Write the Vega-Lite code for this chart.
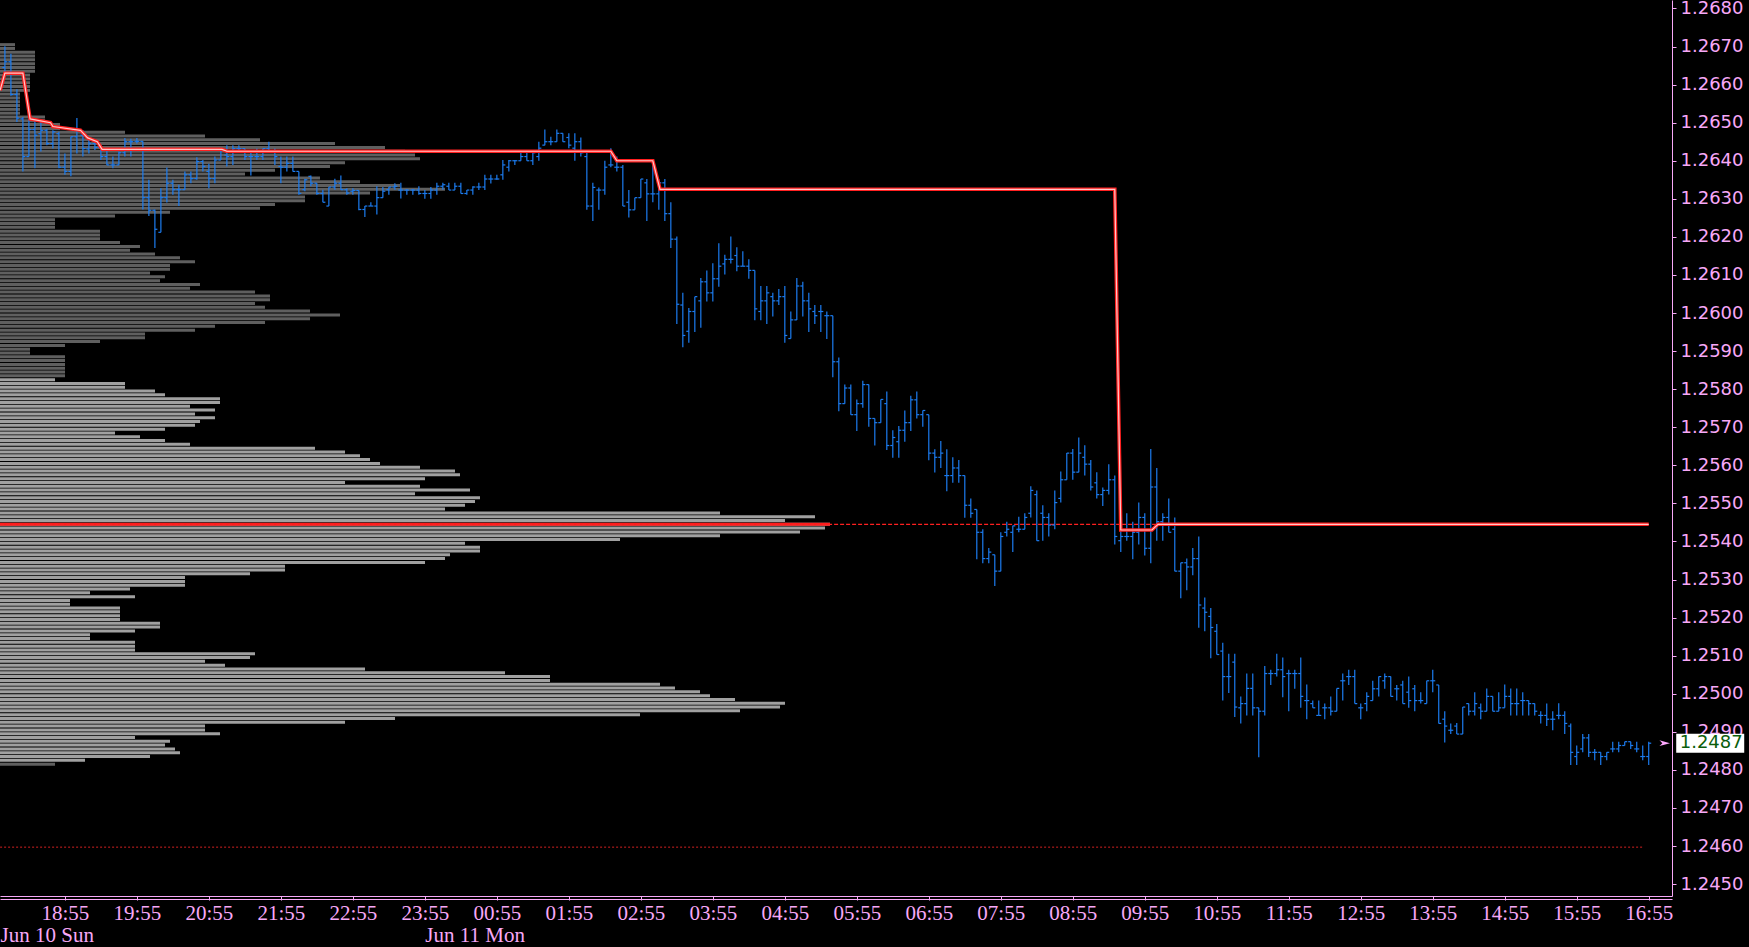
{
"$schema":"https://vega.github.io/schema/vega-lite/v6.json",
"width":1672,"height":896,
"autosize":{"type":"none"},
"padding":{"left":0,"top":0,"right":77,"bottom":51},
"background":"#000000",
"config":{"view":{"stroke":null},"axis":{"grid":false}},
"datasets":{
"bars":[
{"t":"2012-06-10T18:05","o":1.26645,"h":1.26701,"l":1.26627,"c":1.2666},
{"t":"2012-06-10T18:10","o":1.2666,"h":1.26681,"l":1.26571,"c":1.26574},
{"t":"2012-06-10T18:15","o":1.26574,"h":1.26588,"l":1.26502,"c":1.26512},
{"t":"2012-06-10T18:20","o":1.2651,"h":1.26515,"l":1.26372,"c":1.26411},
{"t":"2012-06-10T18:25","o":1.26411,"h":1.2651,"l":1.26411,"c":1.26482},
{"t":"2012-06-10T18:30","o":1.26482,"h":1.26506,"l":1.2638,"c":1.26467},
{"t":"2012-06-10T18:35","o":1.26471,"h":1.26502,"l":1.26424,"c":1.2648},
{"t":"2012-06-10T18:40","o":1.2648,"h":1.26484,"l":1.26441,"c":1.26445},
{"t":"2012-06-10T18:45","o":1.26445,"h":1.2648,"l":1.26432,"c":1.26476},
{"t":"2012-06-10T18:50","o":1.26471,"h":1.26476,"l":1.2638,"c":1.26383},
{"t":"2012-06-10T18:55","o":1.26383,"h":1.26419,"l":1.26363,"c":1.26372},
{"t":"2012-06-10T19:00","o":1.26372,"h":1.26463,"l":1.26359,"c":1.26463},
{"t":"2012-06-10T19:05","o":1.26463,"h":1.26512,"l":1.26419,"c":1.26482},
{"t":"2012-06-10T19:10","o":1.26467,"h":1.2648,"l":1.26411,"c":1.26432},
{"t":"2012-06-10T19:15","o":1.26431,"h":1.26458,"l":1.26419,"c":1.26445},
{"t":"2012-06-10T19:20","o":1.26445,"h":1.26454,"l":1.26428,"c":1.26435},
{"t":"2012-06-10T19:25","o":1.26435,"h":1.26441,"l":1.26402,"c":1.26411},
{"t":"2012-06-10T19:30","o":1.26411,"h":1.26428,"l":1.26389,"c":1.26389},
{"t":"2012-06-10T19:35","o":1.26389,"h":1.26411,"l":1.2638,"c":1.26389},
{"t":"2012-06-10T19:40","o":1.26389,"h":1.26424,"l":1.26389,"c":1.26421},
{"t":"2012-06-10T19:45","o":1.26421,"h":1.2646,"l":1.26411,"c":1.2645},
{"t":"2012-06-10T19:50","o":1.2645,"h":1.26458,"l":1.26411,"c":1.2645},
{"t":"2012-06-10T19:55","o":1.26451,"h":1.2646,"l":1.26445,"c":1.26451},
{"t":"2012-06-10T20:00","o":1.26451,"h":1.26451,"l":1.26272,"c":1.26303},
{"t":"2012-06-10T20:05","o":1.26303,"h":1.2635,"l":1.26255,"c":1.2627},
{"t":"2012-06-10T20:10","o":1.2627,"h":1.26272,"l":1.26171,"c":1.2622},
{"t":"2012-06-10T20:15","o":1.26212,"h":1.26328,"l":1.26212,"c":1.26303},
{"t":"2012-06-10T20:20","o":1.26303,"h":1.26382,"l":1.2629,"c":1.26341},
{"t":"2012-06-10T20:25","o":1.26341,"h":1.2635,"l":1.26311,"c":1.26324},
{"t":"2012-06-10T20:30","o":1.26324,"h":1.26337,"l":1.26281,"c":1.26324},
{"t":"2012-06-10T20:35","o":1.26324,"h":1.26372,"l":1.26324,"c":1.26363},
{"t":"2012-06-10T20:40","o":1.26363,"h":1.26372,"l":1.26341,"c":1.26353},
{"t":"2012-06-10T20:45","o":1.26353,"h":1.26409,"l":1.2635,"c":1.26398},
{"t":"2012-06-10T20:50","o":1.26398,"h":1.26402,"l":1.26372,"c":1.26385},
{"t":"2012-06-10T20:55","o":1.26372,"h":1.26392,"l":1.26328,"c":1.26353},
{"t":"2012-06-10T21:00","o":1.26353,"h":1.26411,"l":1.26341,"c":1.26402},
{"t":"2012-06-10T21:05","o":1.26402,"h":1.26432,"l":1.26402,"c":1.26432},
{"t":"2012-06-10T21:10","o":1.26415,"h":1.26441,"l":1.26385,"c":1.26411},
{"t":"2012-06-10T21:15","o":1.26411,"h":1.26441,"l":1.26389,"c":1.26432},
{"t":"2012-06-10T21:20","o":1.26432,"h":1.26441,"l":1.26424,"c":1.26432},
{"t":"2012-06-10T21:25","o":1.26432,"h":1.26432,"l":1.26402,"c":1.26411},
{"t":"2012-06-10T21:30","o":1.26411,"h":1.26428,"l":1.26361,"c":1.26411},
{"t":"2012-06-10T21:35","o":1.26411,"h":1.26432,"l":1.26402,"c":1.26411},
{"t":"2012-06-10T21:40","o":1.26411,"h":1.26432,"l":1.26402,"c":1.26432},
{"t":"2012-06-10T21:45","o":1.26432,"h":1.2645,"l":1.26424,"c":1.26424},
{"t":"2012-06-10T21:50","o":1.26424,"h":1.26432,"l":1.26389,"c":1.26411},
{"t":"2012-06-10T21:55","o":1.26385,"h":1.26411,"l":1.26341,"c":1.26383},
{"t":"2012-06-10T22:00","o":1.26383,"h":1.26411,"l":1.26372,"c":1.26393},
{"t":"2012-06-10T22:05","o":1.26393,"h":1.26411,"l":1.26372,"c":1.26372},
{"t":"2012-06-10T22:10","o":1.26372,"h":1.26372,"l":1.26311,"c":1.26314},
{"t":"2012-06-10T22:15","o":1.26324,"h":1.26353,"l":1.2632,"c":1.2635},
{"t":"2012-06-10T22:20","o":1.26359,"h":1.26361,"l":1.26333,"c":1.26341},
{"t":"2012-06-10T22:25","o":1.26341,"h":1.26341,"l":1.26311,"c":1.26314},
{"t":"2012-06-10T22:30","o":1.26314,"h":1.26324,"l":1.26291,"c":1.26291},
{"t":"2012-06-10T22:35","o":1.26281,"h":1.26331,"l":1.26281,"c":1.26331},
{"t":"2012-06-10T22:40","o":1.26331,"h":1.26353,"l":1.26324,"c":1.26341},
{"t":"2012-06-10T22:45","o":1.26341,"h":1.26361,"l":1.26324,"c":1.26324},
{"t":"2012-06-10T22:50","o":1.26324,"h":1.26328,"l":1.26311,"c":1.26315},
{"t":"2012-06-10T22:55","o":1.2632,"h":1.26328,"l":1.26311,"c":1.26322},
{"t":"2012-06-10T23:00","o":1.26322,"h":1.26322,"l":1.2627,"c":1.26272},
{"t":"2012-06-10T23:05","o":1.26272,"h":1.26281,"l":1.26252,"c":1.26281},
{"t":"2012-06-10T23:10","o":1.26281,"h":1.26291,"l":1.26281,"c":1.26281},
{"t":"2012-06-10T23:15","o":1.26281,"h":1.26333,"l":1.26259,"c":1.26303},
{"t":"2012-06-10T23:20","o":1.26303,"h":1.26331,"l":1.26303,"c":1.2632},
{"t":"2012-06-10T23:25","o":1.26324,"h":1.26331,"l":1.26311,"c":1.26331},
{"t":"2012-06-10T23:30","o":1.26331,"h":1.26341,"l":1.26324,"c":1.26333},
{"t":"2012-06-10T23:35","o":1.26323,"h":1.26342,"l":1.26301,"c":1.26323},
{"t":"2012-06-10T23:40","o":1.26323,"h":1.26326,"l":1.26311,"c":1.26323},
{"t":"2012-06-10T23:45","o":1.26323,"h":1.26326,"l":1.26311,"c":1.26323},
{"t":"2012-06-10T23:50","o":1.26323,"h":1.26333,"l":1.26311,"c":1.26314},
{"t":"2012-06-10T23:55","o":1.26314,"h":1.26323,"l":1.263,"c":1.26314},
{"t":"2012-06-11T00:00","o":1.26314,"h":1.26331,"l":1.263,"c":1.26323},
{"t":"2012-06-11T00:05","o":1.26323,"h":1.26342,"l":1.26311,"c":1.26333},
{"t":"2012-06-11T00:10","o":1.26333,"h":1.26342,"l":1.26324,"c":1.26337},
{"t":"2012-06-11T00:15","o":1.26333,"h":1.26342,"l":1.26323,"c":1.26323},
{"t":"2012-06-11T00:20","o":1.26323,"h":1.26342,"l":1.26323,"c":1.26333},
{"t":"2012-06-11T00:25","o":1.26333,"h":1.26342,"l":1.26314,"c":1.26314},
{"t":"2012-06-11T00:30","o":1.26314,"h":1.26323,"l":1.26311,"c":1.26323},
{"t":"2012-06-11T00:35","o":1.26323,"h":1.26333,"l":1.26311,"c":1.26331},
{"t":"2012-06-11T00:40","o":1.26331,"h":1.26342,"l":1.26323,"c":1.26331},
{"t":"2012-06-11T00:45","o":1.26331,"h":1.26363,"l":1.26323,"c":1.26352},
{"t":"2012-06-11T00:50","o":1.26352,"h":1.26363,"l":1.2634,"c":1.26352},
{"t":"2012-06-11T00:55","o":1.26352,"h":1.26363,"l":1.2635,"c":1.26352},
{"t":"2012-06-11T01:00","o":1.26363,"h":1.26402,"l":1.2635,"c":1.26389},
{"t":"2012-06-11T01:05","o":1.26383,"h":1.26402,"l":1.26372,"c":1.264},
{"t":"2012-06-11T01:10","o":1.264,"h":1.26402,"l":1.26389,"c":1.264},
{"t":"2012-06-11T01:15","o":1.264,"h":1.26421,"l":1.264,"c":1.26411},
{"t":"2012-06-11T01:20","o":1.26411,"h":1.26421,"l":1.264,"c":1.264},
{"t":"2012-06-11T01:25","o":1.264,"h":1.26421,"l":1.26389,"c":1.26421},
{"t":"2012-06-11T01:30","o":1.26411,"h":1.2645,"l":1.264,"c":1.26433},
{"t":"2012-06-11T01:35","o":1.26441,"h":1.26482,"l":1.26441,"c":1.2645},
{"t":"2012-06-11T01:40","o":1.2645,"h":1.26463,"l":1.26441,"c":1.2645},
{"t":"2012-06-11T01:45","o":1.2645,"h":1.26482,"l":1.2645,"c":1.26472},
{"t":"2012-06-11T01:50","o":1.26472,"h":1.26472,"l":1.2645,"c":1.2645},
{"t":"2012-06-11T01:55","o":1.26461,"h":1.26472,"l":1.26433,"c":1.26441},
{"t":"2012-06-11T02:00","o":1.26433,"h":1.26472,"l":1.264,"c":1.2645},
{"t":"2012-06-11T02:05","o":1.2645,"h":1.26461,"l":1.26411,"c":1.26421},
{"t":"2012-06-11T02:10","o":1.26411,"h":1.26421,"l":1.26271,"c":1.26281},
{"t":"2012-06-11T02:15","o":1.26281,"h":1.26342,"l":1.26242,"c":1.2633},
{"t":"2012-06-11T02:20","o":1.26323,"h":1.2633,"l":1.26271,"c":1.26323},
{"t":"2012-06-11T02:25","o":1.26323,"h":1.264,"l":1.26311,"c":1.26383},
{"t":"2012-06-11T02:30","o":1.26389,"h":1.26433,"l":1.26383,"c":1.26389},
{"t":"2012-06-11T02:35","o":1.26383,"h":1.26411,"l":1.26372,"c":1.26383},
{"t":"2012-06-11T02:40","o":1.26383,"h":1.26389,"l":1.26281,"c":1.26281},
{"t":"2012-06-11T02:45","o":1.26291,"h":1.26323,"l":1.26251,"c":1.26271},
{"t":"2012-06-11T02:50","o":1.26271,"h":1.26303,"l":1.26271,"c":1.26303},
{"t":"2012-06-11T02:55","o":1.26303,"h":1.26352,"l":1.26303,"c":1.26352},
{"t":"2012-06-11T03:00","o":1.26342,"h":1.26352,"l":1.26242,"c":1.26313},
{"t":"2012-06-11T03:05","o":1.26313,"h":1.26389,"l":1.26291,"c":1.26313},
{"t":"2012-06-11T03:10","o":1.26313,"h":1.26352,"l":1.26271,"c":1.26342},
{"t":"2012-06-11T03:15","o":1.26342,"h":1.26352,"l":1.26242,"c":1.26261},
{"t":"2012-06-11T03:20","o":1.26261,"h":1.26291,"l":1.26171,"c":1.26194},
{"t":"2012-06-11T03:25","o":1.26194,"h":1.26201,"l":1.25971,"c":1.26023},
{"t":"2012-06-11T03:30","o":1.26021,"h":1.26053,"l":1.2591,"c":1.25941},
{"t":"2012-06-11T03:35","o":1.25952,"h":1.26013,"l":1.25922,"c":1.26004},
{"t":"2012-06-11T03:40","o":1.26004,"h":1.26043,"l":1.2595,"c":1.26043},
{"t":"2012-06-11T03:45","o":1.26032,"h":1.26092,"l":1.25961,"c":1.26082},
{"t":"2012-06-11T03:50","o":1.26082,"h":1.26112,"l":1.2603,"c":1.26053},
{"t":"2012-06-11T03:55","o":1.26053,"h":1.26131,"l":1.2603,"c":1.2609},
{"t":"2012-06-11T04:00","o":1.2609,"h":1.26183,"l":1.26069,"c":1.26123},
{"t":"2012-06-11T04:05","o":1.26129,"h":1.26153,"l":1.26101,"c":1.26141},
{"t":"2012-06-11T04:10","o":1.26141,"h":1.26201,"l":1.2613,"c":1.26141},
{"t":"2012-06-11T04:15","o":1.26151,"h":1.26173,"l":1.2611,"c":1.26123},
{"t":"2012-06-11T04:20","o":1.26123,"h":1.26162,"l":1.26123,"c":1.26123},
{"t":"2012-06-11T04:25","o":1.26123,"h":1.26141,"l":1.2609,"c":1.26112},
{"t":"2012-06-11T04:30","o":1.26112,"h":1.26112,"l":1.25981,"c":1.26011},
{"t":"2012-06-11T04:35","o":1.26004,"h":1.26071,"l":1.25981,"c":1.26032},
{"t":"2012-06-11T04:40","o":1.26032,"h":1.26071,"l":1.25971,"c":1.26053},
{"t":"2012-06-11T04:45","o":1.26043,"h":1.26053,"l":1.25991,"c":1.26032},
{"t":"2012-06-11T04:50","o":1.26032,"h":1.26063,"l":1.26021,"c":1.26043},
{"t":"2012-06-11T04:55","o":1.26043,"h":1.26071,"l":1.25922,"c":1.25941},
{"t":"2012-06-11T05:00","o":1.25933,"h":1.26004,"l":1.25933,"c":1.25982},
{"t":"2012-06-11T05:05","o":1.25982,"h":1.26092,"l":1.25982,"c":1.26071},
{"t":"2012-06-11T05:10","o":1.26071,"h":1.26082,"l":1.25991,"c":1.26032},
{"t":"2012-06-11T05:15","o":1.26032,"h":1.26053,"l":1.2595,"c":1.26011},
{"t":"2012-06-11T05:20","o":1.26004,"h":1.26021,"l":1.25971,"c":1.25993},
{"t":"2012-06-11T05:25","o":1.26004,"h":1.26021,"l":1.2595,"c":1.26004},
{"t":"2012-06-11T05:30","o":1.25993,"h":1.26004,"l":1.25932,"c":1.25993},
{"t":"2012-06-11T05:35","o":1.25993,"h":1.25993,"l":1.25831,"c":1.25872},
{"t":"2012-06-11T05:40","o":1.25872,"h":1.25883,"l":1.25742,"c":1.25762},
{"t":"2012-06-11T05:45","o":1.25762,"h":1.25812,"l":1.25762,"c":1.25803},
{"t":"2012-06-11T05:50","o":1.25803,"h":1.25812,"l":1.25733,"c":1.25733},
{"t":"2012-06-11T05:55","o":1.25733,"h":1.25773,"l":1.2569,"c":1.25762},
{"t":"2012-06-11T06:00","o":1.25762,"h":1.25822,"l":1.25751,"c":1.25812},
{"t":"2012-06-11T06:05","o":1.25812,"h":1.25812,"l":1.25701,"c":1.25723},
{"t":"2012-06-11T06:10","o":1.25723,"h":1.25723,"l":1.25652,"c":1.25712},
{"t":"2012-06-11T06:15","o":1.25712,"h":1.25773,"l":1.25712,"c":1.25773},
{"t":"2012-06-11T06:20","o":1.25762,"h":1.25794,"l":1.2564,"c":1.25652},
{"t":"2012-06-11T06:25","o":1.25652,"h":1.25692,"l":1.2562,"c":1.25673},
{"t":"2012-06-11T06:30","o":1.25662,"h":1.25703,"l":1.2562,"c":1.25692},
{"t":"2012-06-11T06:35","o":1.25692,"h":1.25744,"l":1.25662,"c":1.25712},
{"t":"2012-06-11T06:40","o":1.25712,"h":1.25783,"l":1.2569,"c":1.25772},
{"t":"2012-06-11T06:45","o":1.25772,"h":1.25794,"l":1.25723,"c":1.25733},
{"t":"2012-06-11T06:50","o":1.25733,"h":1.25744,"l":1.25701,"c":1.25744},
{"t":"2012-06-11T06:55","o":1.25733,"h":1.25733,"l":1.25613,"c":1.25632},
{"t":"2012-06-11T07:00","o":1.25632,"h":1.25642,"l":1.25581,"c":1.25621},
{"t":"2012-06-11T07:05","o":1.25621,"h":1.25664,"l":1.25593,"c":1.25632},
{"t":"2012-06-11T07:10","o":1.25573,"h":1.25642,"l":1.25532,"c":1.25573},
{"t":"2012-06-11T07:15","o":1.25573,"h":1.25621,"l":1.25554,"c":1.25593},
{"t":"2012-06-11T07:20","o":1.25593,"h":1.25614,"l":1.25554,"c":1.25573},
{"t":"2012-06-11T07:25","o":1.25573,"h":1.25573,"l":1.25462,"c":1.25495},
{"t":"2012-06-11T07:30","o":1.25495,"h":1.25513,"l":1.25462,"c":1.25474},
{"t":"2012-06-11T07:35","o":1.25484,"h":1.25484,"l":1.25353,"c":1.25424},
{"t":"2012-06-11T07:40","o":1.25424,"h":1.25432,"l":1.25343,"c":1.25355},
{"t":"2012-06-11T07:45","o":1.25355,"h":1.25383,"l":1.25343,"c":1.25372},
{"t":"2012-06-11T07:50","o":1.25365,"h":1.25365,"l":1.25283,"c":1.25322},
{"t":"2012-06-11T07:55","o":1.25322,"h":1.25424,"l":1.25322,"c":1.25413},
{"t":"2012-06-11T08:00","o":1.25424,"h":1.25452,"l":1.25413,"c":1.25432},
{"t":"2012-06-11T08:05","o":1.25424,"h":1.25441,"l":1.25372,"c":1.25441},
{"t":"2012-06-11T08:10","o":1.25432,"h":1.25465,"l":1.25424,"c":1.25432},
{"t":"2012-06-11T08:15","o":1.25432,"h":1.25474,"l":1.25432,"c":1.25463},
{"t":"2012-06-11T08:20","o":1.25474,"h":1.25545,"l":1.25463,"c":1.25534},
{"t":"2012-06-11T08:25","o":1.25523,"h":1.25534,"l":1.25402,"c":1.25402},
{"t":"2012-06-11T08:30","o":1.25474,"h":1.25495,"l":1.25402,"c":1.25463},
{"t":"2012-06-11T08:35","o":1.25463,"h":1.25474,"l":1.25413,"c":1.25443},
{"t":"2012-06-11T08:40","o":1.25443,"h":1.25534,"l":1.25432,"c":1.25502},
{"t":"2012-06-11T08:45","o":1.25513,"h":1.25584,"l":1.25502,"c":1.25562},
{"t":"2012-06-11T08:50","o":1.25562,"h":1.25632,"l":1.25562,"c":1.25632},
{"t":"2012-06-11T08:55","o":1.25632,"h":1.25643,"l":1.25562,"c":1.25582},
{"t":"2012-06-11T09:00","o":1.25582,"h":1.25673,"l":1.25582,"c":1.25632},
{"t":"2012-06-11T09:05","o":1.25621,"h":1.25653,"l":1.25573,"c":1.25603},
{"t":"2012-06-11T09:10","o":1.25603,"h":1.25614,"l":1.25534,"c":1.25543},
{"t":"2012-06-11T09:15","o":1.25554,"h":1.25582,"l":1.25513,"c":1.25523},
{"t":"2012-06-11T09:20","o":1.25523,"h":1.25542,"l":1.25493,"c":1.25534},
{"t":"2012-06-11T09:25","o":1.25534,"h":1.25603,"l":1.25523,"c":1.25562},
{"t":"2012-06-11T09:30","o":1.25562,"h":1.25573,"l":1.25392,"c":1.25413},
{"t":"2012-06-11T09:35","o":1.25402,"h":1.25474,"l":1.25372,"c":1.25413},
{"t":"2012-06-11T09:40","o":1.25413,"h":1.25474,"l":1.25402,"c":1.25413},
{"t":"2012-06-11T09:45","o":1.25413,"h":1.25452,"l":1.25353,"c":1.25424},
{"t":"2012-06-11T09:50","o":1.25424,"h":1.25502,"l":1.25392,"c":1.25463},
{"t":"2012-06-11T09:55","o":1.25463,"h":1.25474,"l":1.25363,"c":1.25382},
{"t":"2012-06-11T10:00","o":1.25382,"h":1.25643,"l":1.25343,"c":1.25543},
{"t":"2012-06-11T10:05","o":1.25543,"h":1.25593,"l":1.25402,"c":1.25452},
{"t":"2012-06-11T10:10","o":1.25452,"h":1.25474,"l":1.25402,"c":1.25463},
{"t":"2012-06-11T10:15","o":1.25463,"h":1.25513,"l":1.25424,"c":1.25424},
{"t":"2012-06-11T10:20","o":1.25432,"h":1.25463,"l":1.25322,"c":1.25322},
{"t":"2012-06-11T10:25","o":1.25322,"h":1.25344,"l":1.25251,"c":1.25344},
{"t":"2012-06-11T10:30","o":1.25344,"h":1.25355,"l":1.25272,"c":1.25333},
{"t":"2012-06-11T10:35","o":1.25333,"h":1.25383,"l":1.25311,"c":1.25355},
{"t":"2012-06-11T10:40","o":1.25355,"h":1.25413,"l":1.25173,"c":1.25233},
{"t":"2012-06-11T10:45","o":1.25225,"h":1.25253,"l":1.25164,"c":1.25214},
{"t":"2012-06-11T10:50","o":1.25203,"h":1.25225,"l":1.25093,"c":1.25174},
{"t":"2012-06-11T10:55","o":1.25164,"h":1.25183,"l":1.25103,"c":1.25103},
{"t":"2012-06-11T11:00","o":1.25112,"h":1.25134,"l":1.24982,"c":1.25045},
{"t":"2012-06-11T11:05","o":1.25045,"h":1.25105,"l":1.25002,"c":1.25045},
{"t":"2012-06-11T11:10","o":1.25083,"h":1.25105,"l":1.24939,"c":1.24965},
{"t":"2012-06-11T11:15","o":1.24963,"h":1.24993,"l":1.24922,"c":1.24974},
{"t":"2012-06-11T11:20","o":1.24974,"h":1.25053,"l":1.24943,"c":1.25014},
{"t":"2012-06-11T11:25","o":1.25014,"h":1.25053,"l":1.24943,"c":1.24963},
{"t":"2012-06-11T11:30","o":1.24963,"h":1.24963,"l":1.24833,"c":1.24954},
{"t":"2012-06-11T11:35","o":1.24954,"h":1.25073,"l":1.24943,"c":1.25053},
{"t":"2012-06-11T11:40","o":1.25053,"h":1.25063,"l":1.25023,"c":1.25053},
{"t":"2012-06-11T11:45","o":1.25053,"h":1.25105,"l":1.25045,"c":1.25063},
{"t":"2012-06-11T11:50","o":1.25063,"h":1.25095,"l":1.24991,"c":1.25045},
{"t":"2012-06-11T11:55","o":1.25053,"h":1.25063,"l":1.24954,"c":1.25053},
{"t":"2012-06-11T12:00","o":1.25053,"h":1.25063,"l":1.25013,"c":1.25053},
{"t":"2012-06-11T12:05","o":1.25053,"h":1.25095,"l":1.24963,"c":1.24993},
{"t":"2012-06-11T12:10","o":1.24982,"h":1.25024,"l":1.24933,"c":1.24982},
{"t":"2012-06-11T12:15","o":1.24974,"h":1.24982,"l":1.24963,"c":1.24963},
{"t":"2012-06-11T12:20","o":1.24943,"h":1.24982,"l":1.24943,"c":1.24943},
{"t":"2012-06-11T12:25","o":1.24963,"h":1.24974,"l":1.24933,"c":1.24963},
{"t":"2012-06-11T12:30","o":1.24963,"h":1.24993,"l":1.24943,"c":1.24954},
{"t":"2012-06-11T12:35","o":1.24954,"h":1.25014,"l":1.24954,"c":1.25014},
{"t":"2012-06-11T12:40","o":1.25034,"h":1.25053,"l":1.24982,"c":1.25034},
{"t":"2012-06-11T12:45","o":1.25045,"h":1.25063,"l":1.25023,"c":1.25045},
{"t":"2012-06-11T12:50","o":1.25045,"h":1.25063,"l":1.24974,"c":1.24974},
{"t":"2012-06-11T12:55","o":1.24963,"h":1.24974,"l":1.24933,"c":1.24963},
{"t":"2012-06-11T13:00","o":1.24974,"h":1.25004,"l":1.24954,"c":1.24993},
{"t":"2012-06-11T13:05","o":1.24982,"h":1.25034,"l":1.24982,"c":1.25013},
{"t":"2012-06-11T13:10","o":1.25013,"h":1.25045,"l":1.24993,"c":1.25045},
{"t":"2012-06-11T13:15","o":1.25034,"h":1.25053,"l":1.25013,"c":1.25045},
{"t":"2012-06-11T13:20","o":1.25045,"h":1.25045,"l":1.24993,"c":1.24993},
{"t":"2012-06-11T13:25","o":1.25013,"h":1.25023,"l":1.24982,"c":1.25013},
{"t":"2012-06-11T13:30","o":1.25023,"h":1.25034,"l":1.24974,"c":1.24974},
{"t":"2012-06-11T13:35","o":1.25004,"h":1.25045,"l":1.24963,"c":1.24982},
{"t":"2012-06-11T13:40","o":1.25013,"h":1.25023,"l":1.24954,"c":1.24982},
{"t":"2012-06-11T13:45","o":1.24982,"h":1.25004,"l":1.24974,"c":1.24982},
{"t":"2012-06-11T13:50","o":1.24974,"h":1.25034,"l":1.24974,"c":1.25034},
{"t":"2012-06-11T13:55","o":1.25034,"h":1.25063,"l":1.25004,"c":1.25034},
{"t":"2012-06-11T14:00","o":1.25023,"h":1.25023,"l":1.24922,"c":1.24922},
{"t":"2012-06-11T14:05","o":1.24933,"h":1.24954,"l":1.24872,"c":1.24915},
{"t":"2012-06-11T14:10","o":1.24904,"h":1.24922,"l":1.24894,"c":1.24904},
{"t":"2012-06-11T14:15","o":1.24915,"h":1.24923,"l":1.24894,"c":1.24894},
{"t":"2012-06-11T14:20","o":1.24894,"h":1.24965,"l":1.24894,"c":1.24965},
{"t":"2012-06-11T14:25","o":1.24974,"h":1.24974,"l":1.24943,"c":1.24954},
{"t":"2012-06-11T14:30","o":1.24954,"h":1.25004,"l":1.24943,"c":1.24974},
{"t":"2012-06-11T14:35","o":1.24963,"h":1.24974,"l":1.24933,"c":1.24954},
{"t":"2012-06-11T14:40","o":1.24954,"h":1.25014,"l":1.24954,"c":1.24993},
{"t":"2012-06-11T14:45","o":1.24993,"h":1.24993,"l":1.24954,"c":1.24954},
{"t":"2012-06-11T14:50","o":1.24954,"h":1.25004,"l":1.24954,"c":1.24963},
{"t":"2012-06-11T14:55","o":1.24963,"h":1.25024,"l":1.24963,"c":1.24993},
{"t":"2012-06-11T15:00","o":1.24993,"h":1.25014,"l":1.24943,"c":1.24974},
{"t":"2012-06-11T15:05","o":1.24974,"h":1.25014,"l":1.24943,"c":1.24974},
{"t":"2012-06-11T15:10","o":1.24982,"h":1.25004,"l":1.24943,"c":1.24982},
{"t":"2012-06-11T15:15","o":1.24982,"h":1.24982,"l":1.24943,"c":1.24974},
{"t":"2012-06-11T15:20","o":1.24974,"h":1.24974,"l":1.24943,"c":1.24954},
{"t":"2012-06-11T15:25","o":1.24943,"h":1.24954,"l":1.24922,"c":1.24943},
{"t":"2012-06-11T15:30","o":1.24943,"h":1.24974,"l":1.24915,"c":1.24933},
{"t":"2012-06-11T15:35","o":1.24933,"h":1.24954,"l":1.24904,"c":1.24933},
{"t":"2012-06-11T15:40","o":1.24943,"h":1.24975,"l":1.24933,"c":1.24943},
{"t":"2012-06-11T15:45","o":1.24943,"h":1.24954,"l":1.24894,"c":1.24922},
{"t":"2012-06-11T15:50","o":1.24915,"h":1.24922,"l":1.24813,"c":1.24846},
{"t":"2012-06-11T15:55","o":1.24835,"h":1.24864,"l":1.24813,"c":1.24846},
{"t":"2012-06-11T16:00","o":1.24855,"h":1.24894,"l":1.24846,"c":1.24884},
{"t":"2012-06-11T16:05","o":1.24884,"h":1.24894,"l":1.24834,"c":1.24846},
{"t":"2012-06-11T16:10","o":1.24846,"h":1.24855,"l":1.24825,"c":1.24846},
{"t":"2012-06-11T16:15","o":1.24846,"h":1.24846,"l":1.24813,"c":1.24835},
{"t":"2012-06-11T16:20","o":1.24835,"h":1.24846,"l":1.24825,"c":1.24846},
{"t":"2012-06-11T16:25","o":1.24855,"h":1.24874,"l":1.24846,"c":1.24855},
{"t":"2012-06-11T16:30","o":1.24855,"h":1.24874,"l":1.24846,"c":1.24864},
{"t":"2012-06-11T16:35","o":1.24864,"h":1.24874,"l":1.24864,"c":1.24874},
{"t":"2012-06-11T16:40","o":1.24874,"h":1.24874,"l":1.24855,"c":1.24864},
{"t":"2012-06-11T16:45","o":1.24855,"h":1.24874,"l":1.24846,"c":1.24855},
{"t":"2012-06-11T16:50","o":1.24835,"h":1.24864,"l":1.24825,"c":1.24835},
{"t":"2012-06-11T16:55","o":1.24835,"h":1.24874,"l":1.24813,"c":1.2487}
],
"profile":[
{"p":1.26705,"v":3,"s":"a"},{"p":1.26695,"v":3,"s":"a"},{"p":1.26685,"v":7,"s":"a"},{"p":1.26675,"v":7,"s":"a"},{"p":1.26665,"v":7,"s":"a"},{"p":1.26655,"v":7,"s":"a"},{"p":1.26645,"v":7,"s":"a"},{"p":1.26635,"v":7,"s":"a"},{"p":1.26625,"v":6,"s":"a"},{"p":1.26615,"v":6,"s":"a"},{"p":1.26605,"v":6,"s":"a"},{"p":1.26595,"v":6,"s":"a"},{"p":1.26585,"v":6,"s":"a"},{"p":1.26575,"v":4,"s":"a"},{"p":1.26565,"v":4,"s":"a"},{"p":1.26555,"v":4,"s":"a"},{"p":1.26545,"v":4,"s":"a"},{"p":1.26535,"v":4,"s":"a"},{"p":1.26525,"v":4,"s":"a"},{"p":1.26515,"v":9,"s":"a"},{"p":1.26505,"v":9,"s":"a"},{"p":1.26495,"v":12,"s":"a"},{"p":1.26485,"v":12,"s":"a"},{"p":1.26475,"v":25,"s":"a"},{"p":1.26465,"v":41,"s":"a"},{"p":1.26455,"v":52,"s":"a"},{"p":1.26445,"v":67,"s":"a"},{"p":1.26435,"v":77,"s":"a"},{"p":1.26425,"v":81,"s":"a"},{"p":1.26415,"v":83,"s":"a"},{"p":1.26405,"v":84,"s":"a"},{"p":1.26395,"v":69,"s":"a"},{"p":1.26385,"v":66,"s":"a"},{"p":1.26375,"v":55,"s":"a"},{"p":1.26365,"v":49,"s":"a"},{"p":1.26355,"v":64,"s":"a"},{"p":1.26345,"v":72,"s":"a"},{"p":1.26335,"v":80,"s":"a"},{"p":1.26325,"v":89,"s":"a"},{"p":1.26315,"v":74,"s":"a"},{"p":1.26305,"v":61,"s":"a"},{"p":1.26295,"v":61,"s":"a"},{"p":1.26285,"v":55,"s":"a"},{"p":1.26275,"v":52,"s":"a"},{"p":1.26265,"v":34,"s":"a"},{"p":1.26255,"v":23,"s":"a"},{"p":1.26245,"v":11,"s":"a"},{"p":1.26235,"v":11,"s":"a"},{"p":1.26225,"v":11,"s":"a"},{"p":1.26215,"v":20,"s":"a"},{"p":1.26205,"v":20,"s":"a"},{"p":1.26195,"v":20,"s":"a"},{"p":1.26185,"v":24,"s":"a"},{"p":1.26175,"v":28,"s":"a"},{"p":1.26165,"v":26,"s":"a"},{"p":1.26155,"v":31,"s":"a"},{"p":1.26145,"v":36,"s":"a"},{"p":1.26135,"v":39,"s":"a"},{"p":1.26125,"v":34,"s":"a"},{"p":1.26115,"v":34,"s":"a"},{"p":1.26105,"v":30,"s":"a"},{"p":1.26095,"v":33,"s":"a"},{"p":1.26085,"v":32,"s":"a"},{"p":1.26075,"v":40,"s":"a"},{"p":1.26065,"v":38,"s":"a"},{"p":1.26055,"v":51,"s":"a"},{"p":1.26045,"v":54,"s":"a"},{"p":1.26035,"v":54,"s":"a"},{"p":1.26025,"v":51,"s":"a"},{"p":1.26015,"v":53,"s":"a"},{"p":1.26005,"v":62,"s":"a"},{"p":1.25995,"v":68,"s":"a"},{"p":1.25985,"v":62,"s":"a"},{"p":1.25975,"v":53,"s":"a"},{"p":1.25965,"v":43,"s":"a"},{"p":1.25955,"v":39,"s":"a"},{"p":1.25945,"v":29,"s":"a"},{"p":1.25935,"v":29,"s":"a"},{"p":1.25925,"v":20,"s":"a"},{"p":1.25915,"v":13,"s":"a"},{"p":1.25905,"v":6,"s":"a"},{"p":1.25895,"v":6,"s":"a"},{"p":1.25885,"v":13,"s":"a"},{"p":1.25875,"v":13,"s":"a"},{"p":1.25865,"v":13,"s":"a"},{"p":1.25855,"v":13,"s":"a"},{"p":1.25845,"v":13,"s":"a"},{"p":1.25835,"v":13,"s":"a"},
{"p":1.25825,"v":11,"s":"b"},{"p":1.25815,"v":25,"s":"b"},{"p":1.25805,"v":25,"s":"b"},{"p":1.25795,"v":31,"s":"b"},{"p":1.25785,"v":33,"s":"b"},{"p":1.25775,"v":44,"s":"b"},{"p":1.25765,"v":44,"s":"b"},{"p":1.25755,"v":38,"s":"b"},{"p":1.25745,"v":43,"s":"b"},{"p":1.25735,"v":39,"s":"b"},{"p":1.25725,"v":43,"s":"b"},{"p":1.25715,"v":40,"s":"b"},{"p":1.25705,"v":39,"s":"b"},{"p":1.25695,"v":33,"s":"b"},{"p":1.25685,"v":23,"s":"b"},{"p":1.25675,"v":28,"s":"b"},{"p":1.25665,"v":33,"s":"b"},{"p":1.25655,"v":38,"s":"b"},{"p":1.25645,"v":63,"s":"b"},{"p":1.25635,"v":69,"s":"b"},{"p":1.25625,"v":72,"s":"b"},{"p":1.25615,"v":74,"s":"b"},{"p":1.25605,"v":76,"s":"b"},{"p":1.25595,"v":84,"s":"b"},{"p":1.25585,"v":91,"s":"b"},{"p":1.25575,"v":92,"s":"b"},{"p":1.25565,"v":85,"s":"b"},{"p":1.25555,"v":69,"s":"b"},{"p":1.25545,"v":84,"s":"b"},{"p":1.25535,"v":94,"s":"b"},{"p":1.25525,"v":83,"s":"b"},{"p":1.25515,"v":96,"s":"b"},{"p":1.25505,"v":95,"s":"b"},{"p":1.25495,"v":93,"s":"b"},{"p":1.25485,"v":89,"s":"b"},{"p":1.25475,"v":144,"s":"b"},{"p":1.25465,"v":163,"s":"b"},{"p":1.25455,"v":157,"s":"b"},{"p":1.25445,"v":166,"s":"b"},{"p":1.25435,"v":165,"s":"b"},{"p":1.25425,"v":160,"s":"b"},{"p":1.25415,"v":144,"s":"b"},{"p":1.25405,"v":124,"s":"b"},{"p":1.25395,"v":93,"s":"b"},{"p":1.25385,"v":96,"s":"b"},{"p":1.25375,"v":96,"s":"b"},{"p":1.25365,"v":90,"s":"b"},{"p":1.25355,"v":89,"s":"b"},{"p":1.25345,"v":85,"s":"b"},{"p":1.25335,"v":57,"s":"b"},{"p":1.25325,"v":57,"s":"b"},{"p":1.25315,"v":50,"s":"b"},{"p":1.25305,"v":37,"s":"b"},{"p":1.25295,"v":37,"s":"b"},{"p":1.25285,"v":37,"s":"b"},{"p":1.25275,"v":26,"s":"b"},{"p":1.25265,"v":18,"s":"b"},{"p":1.25255,"v":27,"s":"b"},{"p":1.25245,"v":14,"s":"b"},{"p":1.25235,"v":14,"s":"b"},{"p":1.25225,"v":24,"s":"b"},{"p":1.25215,"v":24,"s":"b"},{"p":1.25205,"v":24,"s":"b"},{"p":1.25195,"v":24,"s":"b"},{"p":1.25185,"v":32,"s":"b"},{"p":1.25175,"v":32,"s":"b"},{"p":1.25165,"v":27,"s":"b"},{"p":1.25155,"v":18,"s":"b"},{"p":1.25145,"v":18,"s":"b"},{"p":1.25135,"v":27,"s":"b"},{"p":1.25125,"v":27,"s":"b"},{"p":1.25115,"v":27,"s":"b"},{"p":1.25105,"v":51,"s":"b"},{"p":1.25095,"v":50,"s":"b"},{"p":1.25085,"v":41,"s":"b"},{"p":1.25075,"v":45,"s":"b"},{"p":1.25065,"v":73,"s":"b"},{"p":1.25055,"v":101,"s":"b"},{"p":1.25045,"v":110,"s":"b"},{"p":1.25035,"v":110,"s":"b"},{"p":1.25025,"v":132,"s":"b"},{"p":1.25015,"v":135,"s":"b"},{"p":1.25005,"v":140,"s":"b"},{"p":1.24995,"v":142,"s":"b"},{"p":1.24985,"v":147,"s":"b"},{"p":1.24975,"v":157,"s":"b"},{"p":1.24965,"v":156,"s":"b"},{"p":1.24955,"v":148,"s":"b"},{"p":1.24945,"v":128,"s":"b"},{"p":1.24935,"v":79,"s":"b"},{"p":1.24925,"v":69,"s":"b"},{"p":1.24915,"v":41,"s":"b"},{"p":1.24905,"v":41,"s":"b"},{"p":1.24895,"v":44,"s":"b"},{"p":1.24885,"v":27,"s":"b"},{"p":1.24875,"v":34,"s":"b"},{"p":1.24865,"v":33,"s":"b"},{"p":1.24855,"v":35,"s":"b"},{"p":1.24845,"v":36,"s":"b"},{"p":1.24835,"v":30,"s":"b"},{"p":1.24825,"v":17,"s":"b"},{"p":1.24815,"v":11,"s":"a"}
],
"devpoc":[
{"t":"2012-06-10T18:01","p":1.26585},{"t":"2012-06-10T18:05","p":1.2663},{"t":"2012-06-10T18:20","p":1.2663},{"t":"2012-06-10T18:26","p":1.2651},{"t":"2012-06-10T18:43","p":1.265},{"t":"2012-06-10T18:45","p":1.2649},{"t":"2012-06-10T19:08","p":1.2648},{"t":"2012-06-10T19:14","p":1.2646},{"t":"2012-06-10T19:22","p":1.2645},{"t":"2012-06-10T19:26","p":1.2643},{"t":"2012-06-10T21:06","p":1.2643},{"t":"2012-06-10T21:10","p":1.26425},{"t":"2012-06-11T02:30","p":1.26425},{"t":"2012-06-11T02:35","p":1.264},{"t":"2012-06-11T03:05","p":1.264},{"t":"2012-06-11T03:11","p":1.26325},{"t":"2012-06-11T09:30","p":1.26325},{"t":"2012-06-11T09:35","p":1.2543},{"t":"2012-06-11T10:01","p":1.2543},{"t":"2012-06-11T10:06","p":1.25445},{"t":"2012-06-11T16:55","p":1.25445}
],
"levels":[
{"t0":"2012-06-10T18:01","t1":"2012-06-11T16:55","p":1.25445,"k":"poc"},
{"t0":"2012-06-10T18:01","t1":"2012-06-11T16:50","p":1.24597,"k":"low"}
]
},
"layer":[
{
"data":{"name":"profile"},
"mark":{"type":"bar","orient":"horizontal","height":3},
"encoding":{
"y":{"field":"p","type":"quantitative","scale":{"domain":[1.244818,1.268091],"zero":false,"nice":false},
"axis":{"orient":"right","values":[1.245,1.246,1.247,1.248,1.249,1.25,1.251,1.252,1.253,1.254,1.255,1.256,1.257,1.258,1.259,1.26,1.261,1.262,1.263,1.264,1.265,1.266,1.267,1.268],"tickCount":60,
"format":".4f","labelFont":"DejaVu Sans","labelFontSize":18,"labelColor":"#f7a8f7","domainColor":"#f7a8f7","domainWidth":1,"tickColor":"#f7a8f7","tickSize":4,"labelPadding":4,"labelFlush":false,"labelOverlap":false,"labelBound":false,"title":null,"grid":false}},
"x":{"field":"v","type":"quantitative","scale":{"domain":[0,334.4],"nice":false},"axis":null},
"color":{"field":"s","type":"nominal","scale":{"domain":["a","b"],"range":["#5f5f5f","#a0a0a0"]},"legend":null}
}
},
{
"data":{"name":"profile"},
"transform":[{"joinaggregate":[{"op":"max","field":"v","as":"vmax"}]},{"filter":"datum.v == datum.vmax"}],
"mark":{"type":"bar","orient":"horizontal","height":3,"color":"#ff1c1c"},
"encoding":{
"y":{"field":"p","type":"quantitative"},
"x":{"field":"v","type":"quantitative","scale":{"domain":[0,334.4],"nice":false},"axis":null}
}
},
{
"data":{"name":"levels"},
"transform":[{"filter":"datum.k == 'poc'"}],
"mark":{"type":"rule","color":"#ff2020","strokeWidth":1.3,"strokeDash":[4,2]},
"encoding":{
"x":{"field":"t0","type":"temporal","scale":{"domain":[{"year":2012,"month":6,"date":10,"hours":18,"minutes":0,"seconds":55},{"year":2012,"month":6,"date":11,"hours":17,"minutes":14,"seconds":24}]},
"axis":{"orient":"bottom","offset":3,"values":[{"year":2012,"month":6,"date":10,"hours":18,"minutes":6},{"year":2012,"month":6,"date":11,"hours":0,"minutes":0}],"format":"%b %d %a","labelAlign":"left","labelOffset":-6,"labelFont":"Liberation Sans Narrow","labelFontSize":21,"labelColor":"#f7a8f7","domainColor":"#f7a8f7","domainWidth":1,"ticks":false,"labelPadding":25,"labelFlush":false,"labelOverlap":false,"labelBound":false,"title":null,"grid":false}},
"x2":{"field":"t1"},
"y":{"field":"p","type":"quantitative"}
}
},
{
"data":{"name":"levels"},
"transform":[{"filter":"datum.k == 'low'"}],
"mark":{"type":"rule","color":"#d42020","strokeWidth":1,"strokeDash":[2,2]},
"encoding":{
"x":{"field":"t0","type":"temporal","scale":{"domain":[{"year":2012,"month":6,"date":10,"hours":18,"minutes":0,"seconds":55},{"year":2012,"month":6,"date":11,"hours":17,"minutes":14,"seconds":24}]},"axis":null},
"x2":{"field":"t1"},
"y":{"field":"p","type":"quantitative"}
}
},
{
"data":{"name":"bars"},
"mark":{"type":"rule","color":"#1c7cf0","strokeWidth":1.2},
"encoding":{
"x":{"field":"t","type":"temporal","scale":{"domain":[{"year":2012,"month":6,"date":10,"hours":18,"minutes":0,"seconds":55},{"year":2012,"month":6,"date":11,"hours":17,"minutes":14,"seconds":24}]},
"axis":{"orient":"bottom","values":[
{"year":2012,"month":6,"date":10,"hours":18,"minutes":55},{"year":2012,"month":6,"date":10,"hours":19,"minutes":55},{"year":2012,"month":6,"date":10,"hours":20,"minutes":55},{"year":2012,"month":6,"date":10,"hours":21,"minutes":55},{"year":2012,"month":6,"date":10,"hours":22,"minutes":55},{"year":2012,"month":6,"date":10,"hours":23,"minutes":55},
{"year":2012,"month":6,"date":11,"hours":0,"minutes":55},{"year":2012,"month":6,"date":11,"hours":1,"minutes":55},{"year":2012,"month":6,"date":11,"hours":2,"minutes":55},{"year":2012,"month":6,"date":11,"hours":3,"minutes":55},{"year":2012,"month":6,"date":11,"hours":4,"minutes":55},{"year":2012,"month":6,"date":11,"hours":5,"minutes":55},{"year":2012,"month":6,"date":11,"hours":6,"minutes":55},{"year":2012,"month":6,"date":11,"hours":7,"minutes":55},{"year":2012,"month":6,"date":11,"hours":8,"minutes":55},{"year":2012,"month":6,"date":11,"hours":9,"minutes":55},{"year":2012,"month":6,"date":11,"hours":10,"minutes":55},{"year":2012,"month":6,"date":11,"hours":11,"minutes":55},{"year":2012,"month":6,"date":11,"hours":12,"minutes":55},{"year":2012,"month":6,"date":11,"hours":13,"minutes":55},{"year":2012,"month":6,"date":11,"hours":14,"minutes":55},{"year":2012,"month":6,"date":11,"hours":15,"minutes":55},{"year":2012,"month":6,"date":11,"hours":16,"minutes":55}],"tickCount":60,
"format":"%H:%M","labelFont":"Liberation Sans Narrow","labelFontSize":21,"labelColor":"#f7a8f7","domainColor":"#f7a8f7","domainWidth":1,"tickColor":"#f7a8f7","tickSize":4,"labelPadding":2,"labelFlush":false,"labelOverlap":false,"labelBound":false,"title":null,"grid":false}},
"y":{"field":"l","type":"quantitative"},
"y2":{"field":"h"}
}
},
{
"data":{"name":"bars"},
"mark":{"type":"point","shape":"M-1,0H0","size":25,"filled":false,"strokeWidth":1.2,"color":"#1c7cf0","opacity":1},
"encoding":{
"x":{"field":"t","type":"temporal","scale":{"domain":[{"year":2012,"month":6,"date":10,"hours":18,"minutes":0,"seconds":55},{"year":2012,"month":6,"date":11,"hours":17,"minutes":14,"seconds":24}]},"axis":null},
"y":{"field":"o","type":"quantitative"}
}
},
{
"data":{"name":"bars"},
"mark":{"type":"point","shape":"M0,0H1","size":25,"filled":false,"strokeWidth":1.2,"color":"#1c7cf0","opacity":1},
"encoding":{
"x":{"field":"t","type":"temporal","scale":{"domain":[{"year":2012,"month":6,"date":10,"hours":18,"minutes":0,"seconds":55},{"year":2012,"month":6,"date":11,"hours":17,"minutes":14,"seconds":24}]},"axis":null},
"y":{"field":"c","type":"quantitative"}
}
},
{
"data":{"name":"devpoc"},
"mark":{"type":"line","color":"#ff2020","strokeWidth":3.6},
"encoding":{
"x":{"field":"t","type":"temporal","scale":{"domain":[{"year":2012,"month":6,"date":10,"hours":18,"minutes":0,"seconds":55},{"year":2012,"month":6,"date":11,"hours":17,"minutes":14,"seconds":24}]},"axis":null},
"y":{"field":"p","type":"quantitative"}
}
},
{
"data":{"name":"devpoc"},
"mark":{"type":"line","color":"#ffc8c8","strokeWidth":1.2},
"encoding":{
"x":{"field":"t","type":"temporal","scale":{"domain":[{"year":2012,"month":6,"date":10,"hours":18,"minutes":0,"seconds":55},{"year":2012,"month":6,"date":11,"hours":17,"minutes":14,"seconds":24}]},"axis":null},
"y":{"field":"p","type":"quantitative"}
}
},
{
"data":{"name":"bars"},
"transform":[{"window":[{"op":"row_number","as":"rn"}],"sort":[{"field":"t","order":"descending"}]},{"filter":"datum.rn == 1"}],
"mark":{"type":"point","shape":"M-1,-0.28H1V0.28H-1Z","size":4624,"filled":true,"color":"#ffffff","opacity":1,"xOffset":61.5},
"encoding":{
"x":{"field":"t","type":"temporal","scale":{"domain":[{"year":2012,"month":6,"date":10,"hours":18,"minutes":0,"seconds":55},{"year":2012,"month":6,"date":11,"hours":17,"minutes":14,"seconds":24}]},"axis":null},
"y":{"field":"c","type":"quantitative"}
}
},
{
"data":{"name":"bars"},
"transform":[{"window":[{"op":"row_number","as":"rn"}],"sort":[{"field":"t","order":"descending"}]},{"filter":"datum.rn == 1"}],
"mark":{"type":"text","align":"left","baseline":"middle","font":"DejaVu Sans","fontSize":18,"color":"#0b5e0b","dx":31},
"encoding":{
"x":{"field":"t","type":"temporal","scale":{"domain":[{"year":2012,"month":6,"date":10,"hours":18,"minutes":0,"seconds":55},{"year":2012,"month":6,"date":11,"hours":17,"minutes":14,"seconds":24}]},"axis":null},
"y":{"field":"c","type":"quantitative"},
"text":{"field":"c","type":"quantitative","format":".4f"}
}
},
{
"data":{"name":"bars"},
"transform":[{"window":[{"op":"row_number","as":"rn"}],"sort":[{"field":"t","order":"descending"}]},{"filter":"datum.rn == 1"}],
"mark":{"type":"point","shape":"M-1,-0.55L1,0L-1,0.55L-0.45,0Z","size":110,"filled":true,"color":"#ffa8ff","opacity":1,"xOffset":16},
"encoding":{
"x":{"field":"t","type":"temporal","scale":{"domain":[{"year":2012,"month":6,"date":10,"hours":18,"minutes":0,"seconds":55},{"year":2012,"month":6,"date":11,"hours":17,"minutes":14,"seconds":24}]},"axis":null},
"y":{"field":"c","type":"quantitative"}
}
}
],
"resolve":{"scale":{"x":"independent"}}
}
